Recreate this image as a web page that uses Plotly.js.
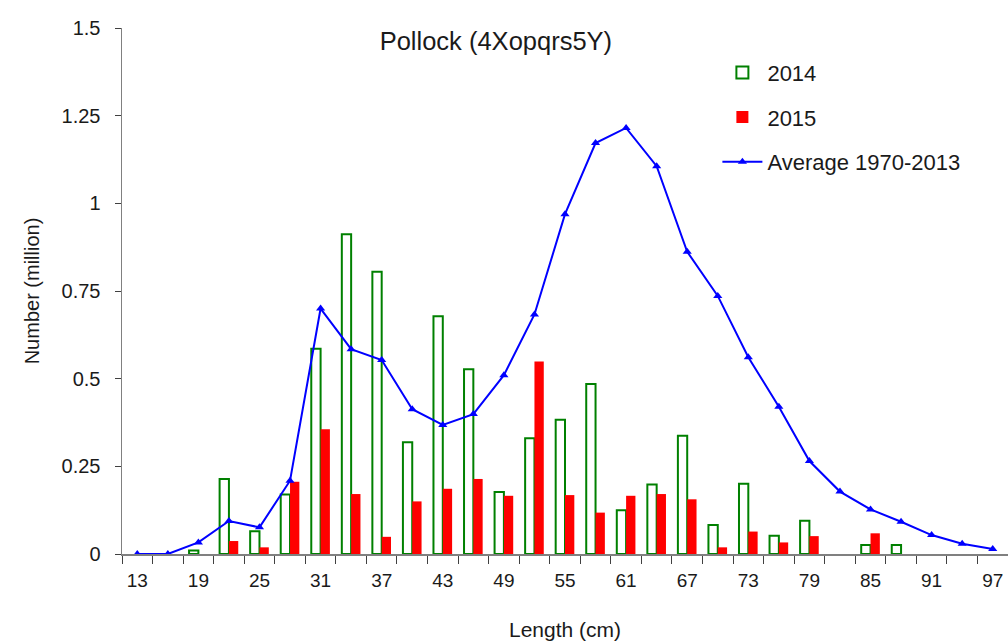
<!DOCTYPE html>
<html>
<head>
<meta charset="utf-8">
<script src="https://cdn.plot.ly/plotly-3.0.1.min.js"></script>
<style>html,body{margin:0;padding:0;background:#fff;}#chart{width:1008px;height:642px;}</style>
</head>
<body>
<div id="chart"></div>
<script>
const lengths = [13,16,19,22,25,28,31,34,37,40,43,46,49,52,55,58,61,64,67,70,73,76,79,82,85,88,91,94,97];
const y2014 = [null,null,0.01,0.214,0.065,0.17,0.585,0.912,0.805,0.319,0.678,0.527,0.177,0.33,0.383,0.485,0.125,0.198,0.337,0.083,0.2,0.052,0.095,null,0.026,0.026,null,null,null];
const y2015 = [null,null,null,0.037,0.019,0.206,0.356,0.171,0.049,0.15,0.186,0.214,0.166,0.549,0.168,0.118,0.166,0.171,0.156,0.019,0.064,0.033,0.051,null,0.059,null,null,null,null];
const avg = [0,0,0.033,0.094,0.076,0.209,0.70,0.584,0.553,0.413,0.368,0.399,0.51,0.683,0.969,1.172,1.215,1.106,0.862,0.736,0.561,0.42,0.265,0.178,0.127,0.092,0.054,0.029,0.014];
const xTickVals = [13,19,25,31,37,43,49,55,61,67,73,79,85,91,97];
const yTickVals = [0,0.25,0.5,0.75,1,1.25,1.5];
const yTickText = ["0","0.25","0.5","0.75","1","1.25","1.5"];

const font = "Liberation Sans, Arial, sans-serif";

const traces = [
  {type:'bar', name:'2014', x:lengths, y:y2014, legendgroup:'a',
   marker:{color:'#ffffff', line:{color:'#008000', width:2}}},
  {type:'bar', name:'2015', x:lengths, y:y2015, legendgroup:'b',
   marker:{color:'#ff0000', line:{width:0}}},
  {type:'scatter', mode:'lines+markers', name:'Average 1970-2013', x:lengths, y:avg, legendgroup:'c',
   line:{color:'#0000ff', width:2}, marker:{symbol:'triangle-up', size:8, color:'#0000ff'}}
];

const layout = {
  width:1008, height:642,
  margin:{l:122, r:0, t:28, b:88},
  paper_bgcolor:'#fff', plot_bgcolor:'#fff',
  font:{family:font, color:'#000', size:19},
  barmode:'group', bargap:0.39, bargroupgap:0,
  title:{text:'Pollock (4Xopqrs5Y)', font:{family:font, size:25.5, color:'#1a1a1a'},
         xref:'paper', x:0.422, xanchor:'center', yref:'container', y:1-41/642, yanchor:'middle'},
  xaxis:{range:[11.5,98.5], tickmode:'array', tickvals:xTickVals, ticks:'', ticklabelstandoff:9,
         showline:true, linecolor:'#808080', linewidth:1.5, showgrid:false, zeroline:false,
         tickfont:{family:font, size:19, color:'#1a1a1a'},
         minor:{tick0:14.5, dtick:3, ticks:'outside', ticklen:8, tickcolor:'#404040', tickwidth:1, showgrid:false},
         title:{text:'Length (cm)', font:{family:font, size:21, color:'#1a1a1a'}, standoff:32}},
  yaxis:{range:[0,1.5], tickmode:'array', tickvals:yTickVals, ticktext:yTickText,
         ticks:'outside', ticklen:6, tickcolor:'#404040', tickwidth:1, ticklabelstandoff:10,
         showline:true, linecolor:'#808080', linewidth:1.5, showgrid:false, zeroline:false,
         tickfont:{family:font, size:20, color:'#1a1a1a'},
         title:{text:'Number (million)', font:{family:font, size:20, color:'#1a1a1a'}, standoff:16}},
  legend:{x:0.672, xanchor:'left', y:0.955, yanchor:'top', bgcolor:'rgba(0,0,0,0)',
          font:{family:font, size:22, color:'#1a1a1a'}, traceorder:'grouped', tracegroupgap:13, itemwidth:40},
  showlegend:true
};

Plotly.newPlot('chart', traces, layout, {displayModeBar:false, staticPlot:true});
</script>
</body>
</html>
